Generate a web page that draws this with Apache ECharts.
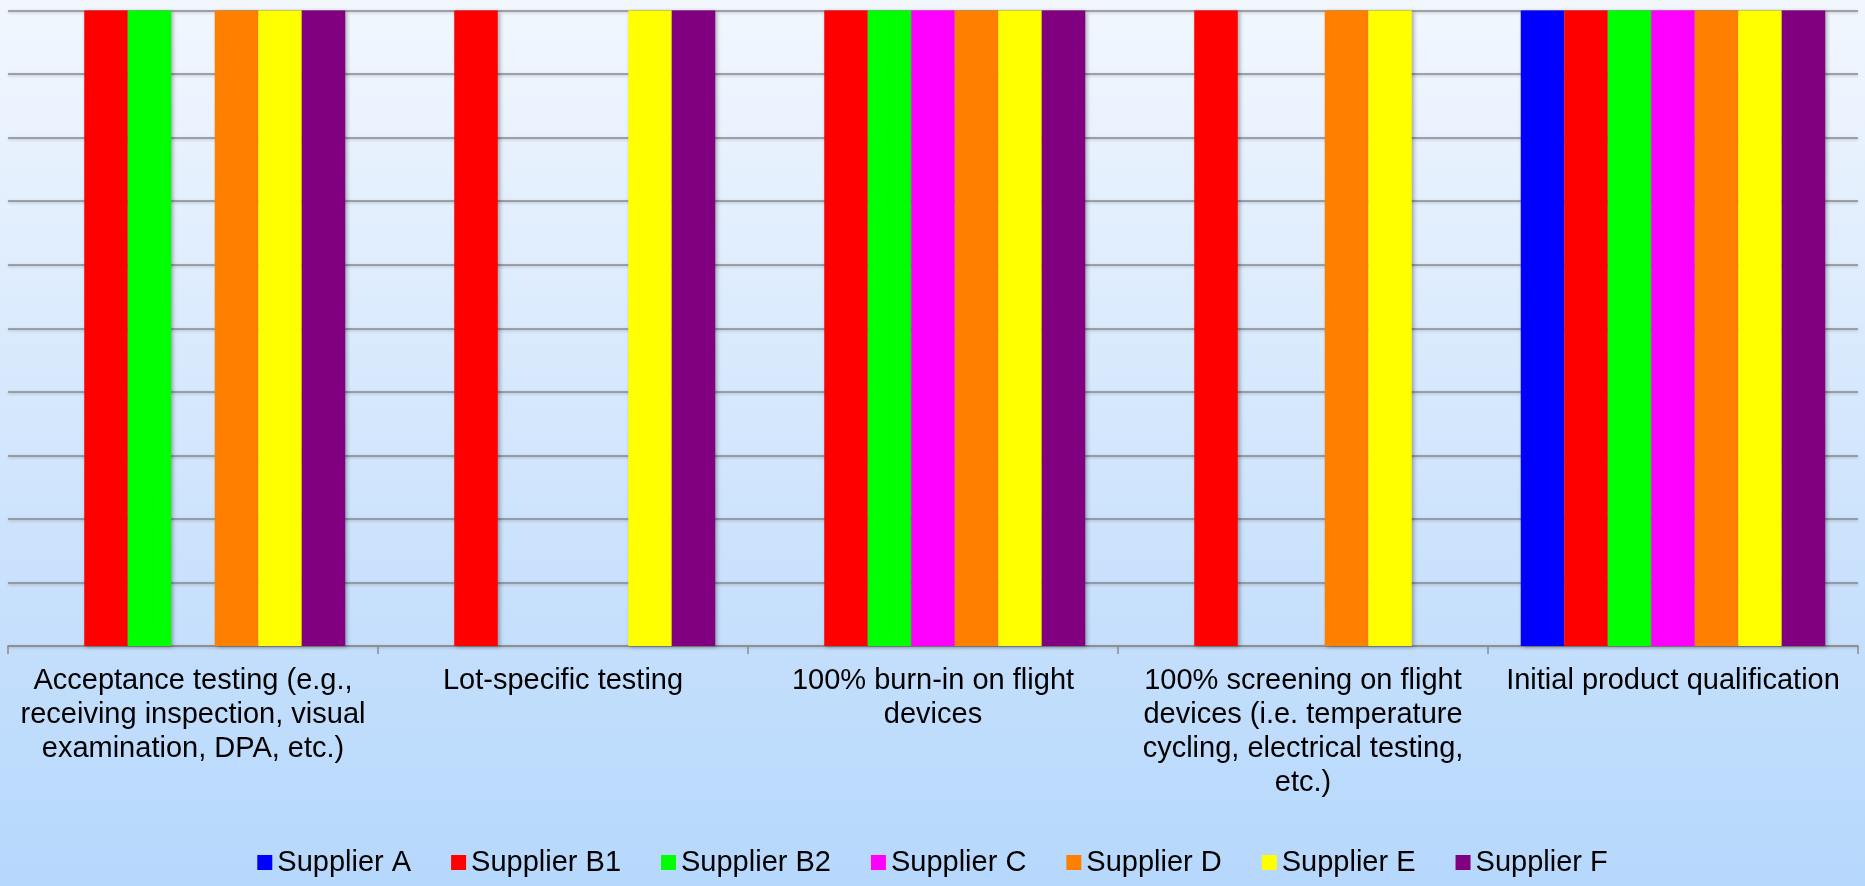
<!DOCTYPE html>
<html>
<head>
<meta charset="utf-8">
<script src="https://cdn.jsdelivr.net/npm/echarts@6/dist/echarts.min.js"></script>
<style>
html, body { margin: 0; padding: 0; }
#chart { width: 1865px; height: 886px; }
</style>
</head>
<body>
<div id="chart"></div>
<script>
// categories (line breaks as in the original)
var categories = [
  'Acceptance testing (e.g.,\nreceiving inspection, visual\nexamination, DPA, etc.)',
  'Lot-specific testing',
  '100% burn-in on flight\ndevices',
  '100% screening on flight\ndevices (i.e. temperature\ncycling, electrical testing,\netc.)',
  'Initial product qualification'
];

var supplierA  = [0, 0, 0, 0, 1];
var supplierB1 = [1, 1, 1, 1, 1];
var supplierB2 = [1, 0, 1, 0, 1];
var supplierC  = [0, 0, 1, 0, 1];
var supplierD  = [1, 0, 1, 1, 1];
var supplierE  = [1, 1, 1, 1, 1];
var supplierF  = [1, 1, 1, 0, 1];

var seriesNames = ['Supplier A', 'Supplier B1', 'Supplier B2', 'Supplier C', 'Supplier D', 'Supplier E', 'Supplier F'];
var seriesData = [supplierA, supplierB1, supplierB2, supplierC, supplierD, supplierE, supplierF];
var colors = ['#0000FF', '#FF0000', '#00FF00', '#FF00FF', '#FF8000', '#FFFF00', '#800080'];

var myChart = echarts.init(document.getElementById('chart'));

var series = seriesNames.map(function (name, i) {
  return {
    name: name,
    type: 'bar',
    barGap: 0,
    barCategoryGap: '17.7%',
    data: seriesData[i],
    itemStyle: {
      color: colors[i],
      shadowBlur: 4,
      shadowColor: 'rgba(0,0,0,0.3)',
      shadowOffsetX: 2,
      shadowOffsetY: 1
    }
  };
});

myChart.setOption({
  backgroundColor: {
    type: 'linear', x: 0, y: 0, x2: 0, y2: 1,
    colorStops: [
      { offset: 0, color: '#f2f7fe' },
      { offset: 0.75, color: '#c3defc' },
      { offset: 1, color: '#b6d8fc' }
    ]
  },
  animation: false,
  color: colors,
  textStyle: {
    fontFamily: '"Liberation Sans", Arial, sans-serif'
  },
  grid: {
    left: 8,
    right: 7,
    top: 10.5,
    bottom: 240,
    containLabel: false
  },
  legend: {
    top: 843,
    left: 'center',
    icon: 'rect',
    itemWidth: 15,
    itemHeight: 15,
    itemGap: 40,
    textStyle: {
      fontFamily: '"Liberation Sans", Arial, sans-serif',
      fontSize: 29,
      color: '#000'
    },
    data: seriesNames
  },
  xAxis: {
    type: 'category',
    data: categories,
    axisLine: {
      lineStyle: { color: '#8c8c8c', width: 1.5 }
    },
    axisTick: {
      show: true,
      length: 8,
      lineStyle: { color: '#8c8c8c', width: 1.5 }
    },
    axisLabel: {
      interval: 0,
      margin: 18,
      color: '#000',
      fontFamily: '"Liberation Sans", Arial, sans-serif',
      fontSize: 29,
      lineHeight: 34
    }
  },
  yAxis: {
    type: 'value',
    min: 0,
    max: 1,
    interval: 0.1,
    axisLabel: { show: false },
    axisLine: { show: false },
    axisTick: { show: false },
    splitLine: {
      show: true,
      lineStyle: {
        color: '#8a8a8a',
        width: 1.5,
        shadowBlur: 3,
        shadowColor: 'rgba(0,0,0,0.25)',
        shadowOffsetY: 1
      }
    }
  },
  series: series
});

window.addEventListener('resize', function () {
  myChart.resize();
});
</script>
</body>
</html>
